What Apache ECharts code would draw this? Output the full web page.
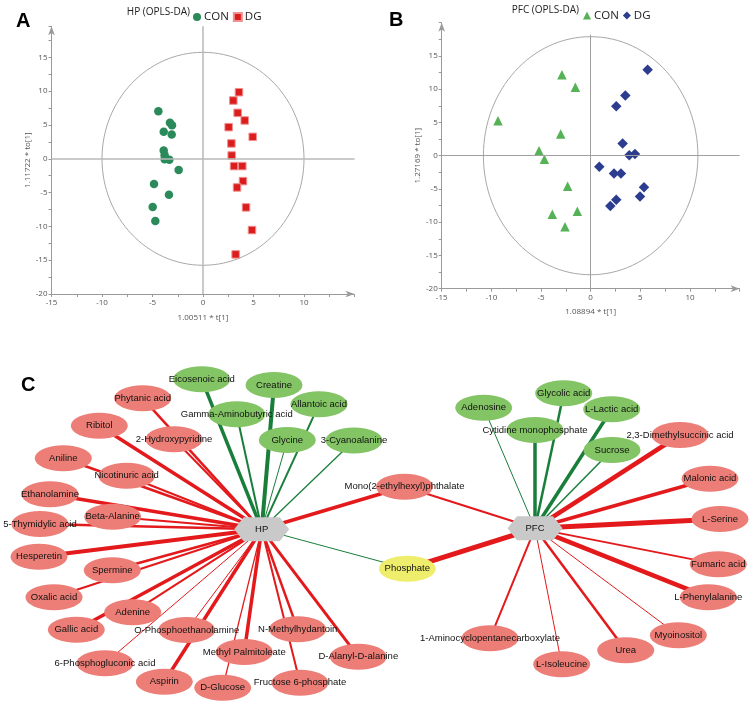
<!DOCTYPE html>
<html><head><meta charset="utf-8">
<script src="https://cdn.jsdelivr.net/npm/echarts@6/dist/echarts.min.js"></script>
<style>html,body{margin:0;padding:0;background:#fff}#c{width:750px;height:702px}</style>
</head><body><div id="c"></div>
<script>
// ---------- Panel A: HP (OPLS-DA) ----------
const hpConX = [-4.42,-3.27,-3.07,-3.89,-3.10,-3.89,-3.80,-3.80,-3.33,-2.41,-4.85,-3.37,-4.98,-4.72];
const hpConY = [7.04,5.32,4.98,3.99,3.60,1.23,0.54,-0.05,-0.15,-1.67,-3.74,-5.32,-7.14,-9.21];
const hpDgX = [3.56,3.00,3.43,4.13,2.54,4.92,2.81,2.84,3.07,3.89,3.96,3.37,4.26,4.85,3.23];
const hpDgY = [9.85,8.62,6.80,5.67,4.68,3.25,2.27,0.49,-1.08,-1.08,-3.30,-4.24,-7.19,-10.54,-14.14];
const hpEllipse = [0, 0, 10, 15.75];   // centre x, centre y, radius x, radius y
// ---------- Panel B: PFC (OPLS-DA) ----------
const pfcConX = [-2.89,-1.54,-9.33,-3.02,-5.20,-4.66,-2.32,-1.34,-3.86,-2.58];
const pfcConY = [12.18,10.28,5.26,3.26,0.75,-0.55,-4.61,-8.37,-8.82,-10.68];
const pfcDgX = [5.74,3.49,2.58,3.22,3.89,4.46,0.87,2.35,3.05,5.37,4.97,2.58,1.98];
const pfcDgY = [12.93,9.07,7.42,1.85,0.05,0.25,-1.65,-2.66,-2.66,-4.76,-6.12,-6.62,-7.57];
const pfcEllipse = [0, 0, 10.8, 17.9];
// ---------- Panel C: network ----------
const nodeNames = ['HP','PFC','Phosphate','Mono(2-ethylhexyl)phthalate',
 'Eicosenoic acid','Creatine','Allantoic acid','Gamma-Aminobutyric acid','Glycine','3-Cyanoalanine',
 'Phytanic acid','Ribitol','2-Hydroxypyridine','Aniline','Nicotinuric acid','Ethanolamine','Beta-Alanine',
 '5-Thymidylic acid','Hesperetin','Spermine','Oxalic acid','Adenine','Gallic acid','O-Phosphoethanolamine',
 '6-Phosphogluconic acid','Aspirin','Methyl Palmitoleate','D-Glucose','N-Methylhydantoin','Fructose 6-phosphate',
 'D-Alanyl-D-alanine',
 'Adenosine','Cytidine monophosphate','Glycolic acid','L-Lactic acid','Sucrose','2,3-Dimethylsuccinic acid',
 'Malonic acid','L-Serine','Fumaric acid','L-Phenylalanine','Myoinositol','Urea','L-Isoleucine',
 '1-Aminocyclopentanecarboxylate'];
const nodeX = [261.7,535,407.3,404.5,
 201.7,274,319,236.7,287.3,354,
 142.7,99.3,174,63.3,126.7,50,112.7,
 40,39,112.3,54,132.7,76.3,186.7,
 105,164.3,244.3,222.7,297.7,300,
 358.3,
 483.7,535,563.7,611.7,612,680,
 710,720,718.3,708.3,678.3,625.7,561.7,
 490];
const nodeY = [529.3,528.3,568.7,486.7,
 379.3,385,404.3,414.3,440,440.5,
 398.3,425.7,439.3,458.3,475.7,494.3,516.7,
 524,556.7,570.3,597.3,612.3,629.7,630,
 663.3,681.7,652,687.7,629.3,682.7,
 656.7,
 407.7,430,393.3,409.3,450,435,
 478.7,519,564.3,597.3,635.3,650.3,664.3,
 638.3];
const nodeGroup = ['hub','hub','both','down',
 'up','up','up','up','up','up',
 'down','down','down','down','down','down','down',
 'down','down','down','down','down','down','down',
 'down','down','down','down','down','down',
 'down',
 'up','up','up','up','up','down',
 'down','down','down','down','down','down','down',
 'down'];
const linkSource = ['HP','HP','HP','HP','HP','HP','HP','HP','HP','HP','HP','HP','HP','HP','HP','HP','HP','HP','HP','HP','HP','HP','HP','HP','HP','HP','HP','HP','HP',
 'PFC','PFC','PFC','PFC','PFC','PFC','PFC','PFC','PFC','PFC','PFC','PFC','PFC','PFC','PFC','PFC'];
const linkTarget = ['Eicosenoic acid','Creatine','Allantoic acid','Gamma-Aminobutyric acid','Glycine','3-Cyanoalanine',
 'Phytanic acid','Ribitol','2-Hydroxypyridine','Aniline','Nicotinuric acid','Ethanolamine','Beta-Alanine',
 '5-Thymidylic acid','Hesperetin','Spermine','Oxalic acid','Adenine','Gallic acid','O-Phosphoethanolamine',
 '6-Phosphogluconic acid','Aspirin','Methyl Palmitoleate','D-Glucose','N-Methylhydantoin','Fructose 6-phosphate',
 'D-Alanyl-D-alanine','Mono(2-ethylhexyl)phthalate','Phosphate',
 'Adenosine','Cytidine monophosphate','Glycolic acid','L-Lactic acid','Sucrose','2,3-Dimethylsuccinic acid',
 'Malonic acid','L-Serine','Fumaric acid','L-Phenylalanine','Myoinositol','Urea','L-Isoleucine',
 '1-Aminocyclopentanecarboxylate','Mono(2-ethylhexyl)phthalate','Phosphate'];
const linkWeight = [3.5,4,2,2,1,1.3,
 2.5,3.5,2,2.5,2,3.5,2,
 2.5,4,2.5,2,2,3.5,1,
 1,3.5,3.5,1.3,2.5,2,
 3,3.5,1,
 1,3.5,2.5,3.5,1.5,4.5,
 3.5,5,1.8,4.5,1,2.5,1,
 2,2,5];
const linkDir = ['up','up','up','up','up','up',
 'down','down','down','down','down','down','down',
 'down','down','down','down','down','down','down',
 'down','down','down','down','down','down',
 'down','down','up',
 'up','up','up','up','up','down',
 'down','down','down','down','down','down','down',
 'down','down','down'];

const NODE_COL = {hub:'#c9c9c9', up:'#83c464', down:'#ec7e77', both:'#eeee6c'};
const EDGE_COL = {up:'#1a7e3b', down:'#e3191b'};
const hexPath = 'path://M0,10 L9.5,0 L45.5,0 L55,10 L45.5,20 L9.5,20 Z';

const nodes = nodeNames.map((n,i)=>({
  name:n, value:[nodeX[i], nodeY[i]],
  symbol: nodeGroup[i]==='hub' ? hexPath : 'circle',
  symbolSize: nodeGroup[i]==='hub' ? [55,24] : [57,26],
  itemStyle:{color:NODE_COL[nodeGroup[i]]}
}));
const links = linkSource.map((s,i)=>({
  source: nodeNames.indexOf(s), target: nodeNames.indexOf(linkTarget[i]),
  lineStyle:{width:linkWeight[i], color:EDGE_COL[linkDir[i]], opacity:1}
}));

const pairs = (xs,ys)=>xs.map((x,i)=>[x,ys[i]]);
const AX = '#9a9a9a';
function xAxisFor(gi, name, gap){
  return {gridIndex:gi, type:'value', min:-15, max:15, interval:5, name:name, nameLocation:'middle', nameGap:gap,
    nameTextStyle:{fontSize:8, color:'#555', fontFamily:'Open Sans'},
    axisLine:{show:true, onZero:false, symbol:['none','arrow'], symbolSize:[5,9], lineStyle:{color:AX}},
    axisTick:{show:true, length:3, lineStyle:{color:AX}},
    minorTick:{show:true, splitNumber:2, length:3, lineStyle:{color:AX}},
    splitLine:{show:false}, minorSplitLine:{show:false},
    axisLabel:{fontSize:8, color:'#555', margin:5, fontFamily:'Open Sans', formatter:v=>(v>=15?'':String(v))}};
}
function yAxisFor(gi, name, max, gap){
  return {gridIndex:gi, type:'value', min:-20, max:max, interval:5, name:name, nameLocation:'middle', nameGap:gap, nameRotate:90,
    nameTextStyle:{fontSize:8, color:'#555', fontFamily:'Open Sans'},
    axisLine:{show:true, onZero:false, symbol:['none','arrow'], symbolSize:[5,9], lineStyle:{color:AX}},
    axisTick:{show:true, length:3, lineStyle:{color:AX}},
    minorTick:{show:true, splitNumber:2, length:3, lineStyle:{color:AX}},
    splitLine:{show:false}, minorSplitLine:{show:false},
    axisLabel:{fontSize:8, color:'#555', margin:4, fontFamily:'Open Sans', formatter:v=>((v%5===0 && v<=15)?String(v):'')}};
}
function ellipseSeries(gi, e){
  return {type:'custom', xAxisIndex:gi, yAxisIndex:gi, silent:true, z:1, data:[e],
    renderItem:(params, api)=>{
      const c = api.coord([api.value(0), api.value(1)]);
      const s = api.size([api.value(2), api.value(3)]);
      return {type:'ellipse', shape:{cx:c[0], cy:c[1], rx:s[0], ry:s[1]}, style:{fill:'none', stroke:'#a8a8a8', lineWidth:1}};
    }};
}
const zeroLines = (col,w,vTop)=>({silent:true, symbol:'none', label:{show:false}, animation:false,
  lineStyle:{color:col, width:w, type:'solid'},
  data:[[{coord:[0,-20]},{coord:[0,vTop]}], {yAxis:0}]});

const chart = echarts.init(document.getElementById('c'), null, {renderer:'canvas'});
chart.setOption({
  animation:false,
  backgroundColor:'#fff',
  grid:[
    {left:51.5, top:26.3, width:303, height:267.7},
    {left:441.7, top:22.7, width:297.9, height:266},
    {left:0, top:0, width:750, height:702}
  ],
  xAxis:[xAxisFor(0,'1.00511 * t[1]',20), xAxisFor(1,'1.08894 * t[1]',19.5),
    {gridIndex:2, type:'value', min:0, max:750, show:false}],
  yAxis:[yAxisFor(0,'1.11722 * to[1]',19.6,18.5), yAxisFor(1,'1.27169 * to[1]',20,19),
    {gridIndex:2, type:'value', min:0, max:702, inverse:true, show:false}],
  legend:[
    {left:188, top:6, itemWidth:8, itemHeight:8, itemGap:4, data:['CON','DG'],
      textStyle:{fontSize:11.5, color:'#222', fontFamily:'Open Sans', padding:[0,0,0,-2]}, formatter:n=>n.trim(), selectedMode:false},
    {left:578, top:4.5, itemWidth:8, itemHeight:8, itemGap:4, data:['CON ','DG '],
      textStyle:{fontSize:11.5, color:'#222', fontFamily:'Open Sans', padding:[0,0,0,-2]}, formatter:n=>n.trim(), selectedMode:false}
  ],
  graphic:[
    {type:'text', left:16, top:11, style:{text:'A', font:'bold 20px Liberation Sans', fill:'#000'}},
    {type:'text', left:389, top:10, style:{text:'B', font:'bold 20px Liberation Sans', fill:'#000'}},
    {type:'text', left:21, top:375, style:{text:'C', font:'bold 20px Liberation Sans', fill:'#000'}},
    {type:'text', x:190, y:12, style:{text:'HP (OPLS-DA)', font:'10px Open Sans', fill:'#222', align:'right', verticalAlign:'middle'}},
    {type:'text', x:579, y:10.5, style:{text:'PFC (OPLS-DA)', font:'10px Open Sans', fill:'#222', align:'right', verticalAlign:'middle'}}
  ],
  series:[
    ellipseSeries(0, hpEllipse),
    {name:'CON', type:'scatter', xAxisIndex:0, yAxisIndex:0, symbol:'circle', symbolSize:8.5, z:3,
      itemStyle:{color:'#2a8a5a', opacity:1}, data:pairs(hpConX,hpConY), markLine:zeroLines('#b8b8b8',1.5,19.6)},
    {name:'DG', type:'scatter', xAxisIndex:0, yAxisIndex:0, symbol:'rect', symbolSize:7.5, z:3,
      itemStyle:{color:'#dc1d1d', borderColor:'#f09090', borderWidth:1, opacity:1}, data:pairs(hpDgX,hpDgY)},
    ellipseSeries(1, pfcEllipse),
    {name:'CON ', type:'scatter', xAxisIndex:1, yAxisIndex:1, symbol:'triangle', symbolSize:9.5, z:3,
      itemStyle:{color:'#55b257', opacity:1}, data:pairs(pfcConX,pfcConY), markLine:zeroLines('#a0a0a0',1,18.2)},
    {name:'DG ', type:'scatter', xAxisIndex:1, yAxisIndex:1, symbol:'diamond', symbolSize:10.5, z:3,
      itemStyle:{color:'#2c3d8f', opacity:1}, data:pairs(pfcDgX,pfcDgY)},
    {type:'graph', layout:'none', coordinateSystem:'cartesian2d', xAxisIndex:2, yAxisIndex:2, z:2,
      data:nodes, links:links, silent:true, roam:false,
      lineStyle:{curveness:0, opacity:1},
      label:{show:true, position:'inside', color:'#111', fontSize:9.5, fontFamily:'Liberation Sans'},
      emphasis:{disabled:true}}
  ]
});
</script></body></html>
